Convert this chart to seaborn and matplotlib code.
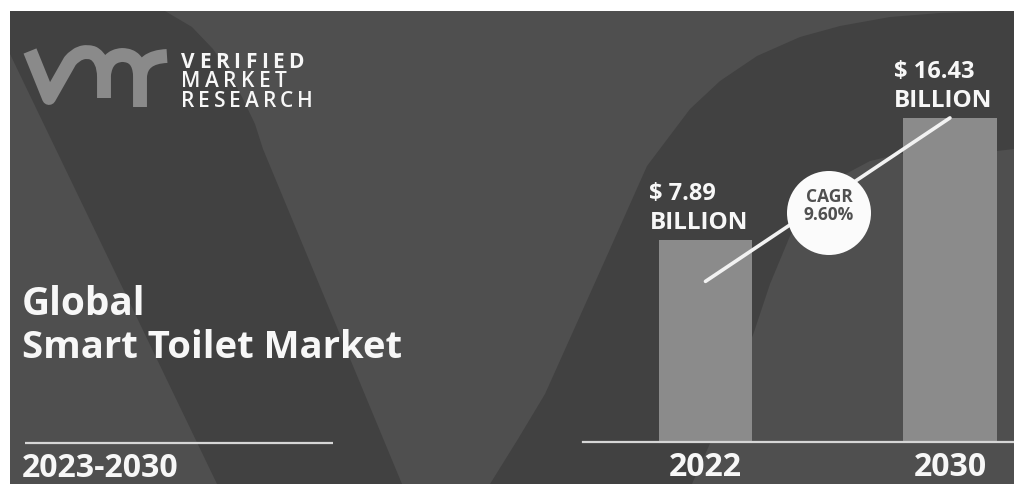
import matplotlib
matplotlib.use("Agg")
import matplotlib.pyplot as plt
import pandas as pd
import seaborn as sns
from matplotlib.patches import Polygon, Circle, Rectangle, PathPatch
from matplotlib.path import Path

# ---- data -------------------------------------------------------------
years = ["2022", "2030"]
market_size = [7.89, 16.43]            # USD billion
value_labels = ["$ 7.89", "$ 16.43"]
unit_label = "BILLION"
cagr_text = ["CAGR", "9.60%"]
title_lines = ["Global", "Smart Toilet Market"]
period = "2023-2030"
brand_words = ["VERIFIED", "MARKET", "RESEARCH"]

# ---- style ------------------------------------------------------------
W, H, DPI = 1014, 485, 100
sns.set_theme(style="white")
plt.rcParams["font.family"] = ["Open Sans", "DejaVu Sans"]

LIGHT = "#4f4f4f"
DARK = "#414141"
BAR = "#8b8b8b"
LOGO = "#8a8a8a"
TXT = "#f7f7f7"
RULE = "#d6d6d6"

fig = plt.figure(figsize=(W / DPI, H / DPI), dpi=DPI, facecolor="white")

# backdrop drawn in pixel units
bg = fig.add_axes([0, 0, 1, 1], zorder=0)
bg.set_xlim(0, W)
bg.set_ylim(H, 0)
bg.axis("off")
bg.add_patch(Rectangle((10, 12), W - 10, H - 12, color=LIGHT, lw=0))

left_arm = [(10, 12), (165, 12), (192, 28), (213, 50), (230, 75), (243, 100),
            (255, 125), (263, 150), (402, 485), (217, 485), (10, 55)]
bg.add_patch(Polygon(left_arm, closed=True, color=DARK, lw=0))

right_arc = [(490, 485), (518, 440), (545, 395), (580, 317), (610, 250),
             (647, 167), (690, 110), (720, 82), (757, 57), (800, 38),
             (840, 27), (890, 18), (940, 14), (1000, 12), (1014, 12),
             (1014, 150), (997, 152), (940, 153), (900, 155), (870, 162),
             (840, 178), (812, 202), (790, 237), (770, 285), (754, 333),
             (735, 385), (712, 440), (692, 485)]
bg.add_patch(Polygon(right_arc, closed=True, color=DARK, lw=0))

# brand mark
M, L, C3 = Path.MOVETO, Path.LINETO, Path.CURVE3
strokes = [
    Path([(30, 52), (49, 99), (70, 62), (80, 50), (93, 54), (104, 60), (104, 78), (104, 99)],
         [M, L, L, C3, C3, C3, C3, L]),
    Path([(104, 76), (106, 57), (122, 56), (139, 56), (140, 76), (140, 108)],
         [M, C3, C3, C3, C3, L]),
    Path([(140, 78), (141, 58), (167, 57)], [M, C3, C3]),
]
for p in strokes:
    bg.add_patch(PathPatch(p, fill=False, edgecolor=LOGO, lw=10, capstyle="butt",
                           joinstyle="round"))

renderer = fig.canvas.get_renderer()


def tracked(word, x0, base, span, size, weight):
    glyphs = [bg.text(0, base, ch, fontsize=size, fontweight=weight, color=TXT,
                      va="baseline", ha="left") for ch in word]
    widths = [g.get_window_extent(renderer).width for g in glyphs]
    gap = (span - sum(widths)) / (len(word) - 1)
    x = x0
    for g, w in zip(glyphs, widths):
        g.set_x(x)
        x += w + gap


tracked(brand_words[0], 181, 67.5, 123, 15, "bold")
tracked(brand_words[1], 181, 87, 106, 15, "semibold")
tracked(brand_words[2], 181, 107, 132, 15, "semibold")

# headline block
bg.text(22, 315, title_lines[0], fontsize=28, fontweight="bold", color=TXT, va="baseline")
bg.text(22, 358, title_lines[1], fontsize=27.5, fontweight="bold", color=TXT, va="baseline")
bg.plot([25, 333], [443.5, 443.5], color=RULE, lw=1.6, solid_capstyle="butt")
bg.text(22, 477, period, fontsize=23, fontweight="bold", color=TXT, va="baseline")

# ---- bar chart --------------------------------------------------------
FLOOR, CEIL = -6.25, 23.91
ax = fig.add_axes([583 / W, (H - 443) / H, (W - 583) / W, (443 - 12) / H], zorder=2)
ax.patch.set_alpha(0)
df = pd.DataFrame({"year": years, "size": market_size})
sns.barplot(data=df, x="year", y="size", color=BAR, saturation=1, width=0.382,
            linewidth=0, ax=ax)
ax.set_ylim(FLOOR, CEIL)
ax.set_xlim(-0.501, 1.262)
# bars rise from the floor of the truncated value axis
for patch, v in zip(ax.patches, market_size):
    patch.set_y(FLOOR)
    patch.set_height(v - FLOOR)

for s in ["top", "left", "right"]:
    ax.spines[s].set_visible(False)
ax.spines["bottom"].set_color(RULE)
ax.spines["bottom"].set_linewidth(1.6)
ax.set_xlabel("")
ax.set_ylabel("")
ax.set_yticks([])
ax.tick_params(axis="x", length=0, pad=6, labelsize=23, labelcolor=TXT)
for t in ax.get_xticklabels():
    t.set_fontweight("bold")

for i, (v, lab) in enumerate(zip(market_size, value_labels)):
    ax.annotate(lab, xy=(i, v), xytext=(-56, 41), textcoords="offset pixels",
                fontsize=17, fontweight="bold", color=TXT, ha="left", va="baseline")
    ax.annotate(unit_label, xy=(i, v), xytext=(-56, 12), textcoords="offset pixels",
                fontsize=17.5, fontweight="bold", color=TXT, ha="left", va="baseline")

# growth connector between the two bars
ax.plot([0, 1], [market_size[0] - 2.9, market_size[1]], color="#f2f2f2", lw=2.6,
        solid_capstyle="round", zorder=3)

# ---- CAGR badge -------------------------------------------------------
ov = fig.add_axes([0, 0, 1, 1], zorder=3)
ov.set_xlim(0, W)
ov.set_ylim(H, 0)
ov.axis("off")
ov.add_patch(Circle((829, 214), 42, color="#fbfbfb", lw=0))
ov.text(829, 197, cagr_text[0], fontsize=12.5, fontweight="bold", color="#505050",
        ha="center", va="center")
ov.text(829, 215, cagr_text[1], fontsize=12.5, fontweight="bold", color="#505050",
        ha="center", va="center")

fig.savefig("out.png", dpi=DPI, facecolor="white")
